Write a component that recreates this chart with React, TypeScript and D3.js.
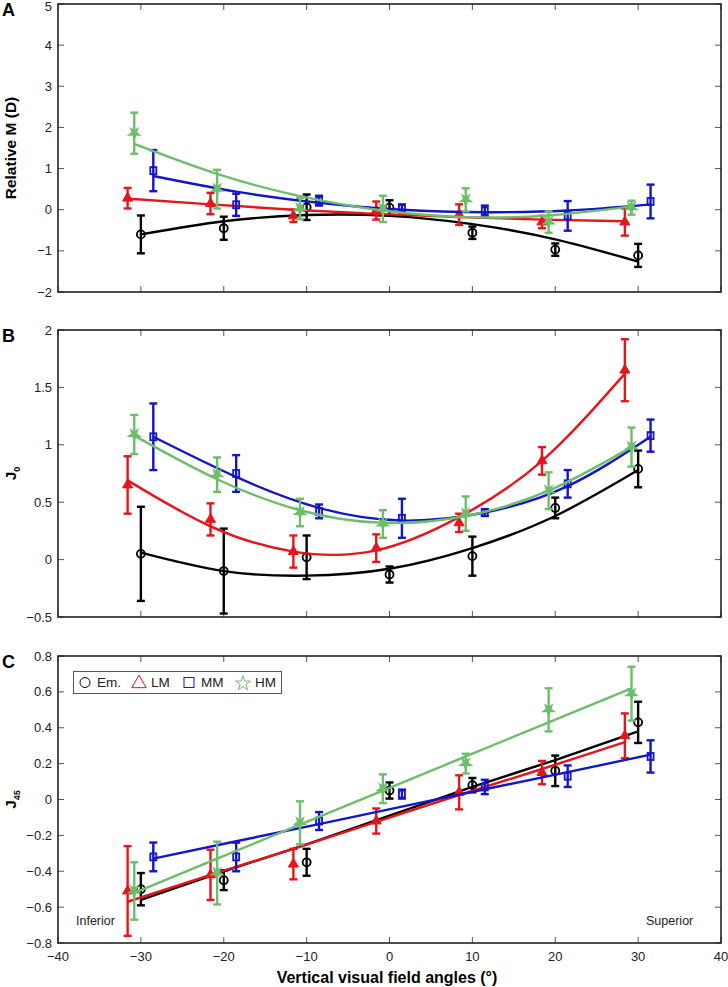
import React from "react";
import * as d3 from "d3";

// ---------- data ----------
const angles = [-30, -20, -10, 0, 10, 20, 30];
const groups = ["Em.", "LM", "MM", "HM"];
const groupOffsets = [0, -1.6, 1.5, -0.8];
const groupColors = ["#000000", "#e8141b", "#1414c8", "#6dbe6c"];

const xTicks = [-40, -30, -20, -10, 0, 10, 20, 30, 40];
const ticksA = [-2, -1, 0, 1, 2, 3, 4, 5];
const ticksB = [-0.5, 0, 0.5, 1, 1.5, 2];
const ticksC = [-0.8, -0.6, -0.4, -0.2, 0, 0.2, 0.4, 0.6, 0.8];

// Panel A: Relative M (D)
const aEmMean = [-0.6, -0.45, 0.06, 0.05, -0.56, -0.97, -1.11];
const aEmErr = [0.46, 0.28, 0.31, 0.18, 0.15, 0.15, 0.28];
const aEmFit = [-0.6, -0.28, -0.13, -0.15, -0.35, -0.72, -1.26];
const aLMMean = [0.28, 0.15, -0.15, -0.02, -0.12, -0.3, -0.3];
const aLMErr = [0.25, 0.26, 0.15, 0.22, 0.25, 0.15, 0.33];
const aLMFit = [0.27, 0.13, 0.0, -0.1, -0.18, -0.24, -0.28];
const aMMMean = [0.95, 0.12, 0.22, 0.03, -0.03, -0.15, 0.2];
const aMMErr = [0.5, 0.27, 0.12, 0.1, 0.13, 0.36, 0.41];
const aMMFit = [0.82, 0.44, 0.17, 0.0, -0.06, -0.02, 0.13];
const aHMMean = [1.86, 0.5, 0.03, 0.02, 0.24, -0.3, 0.05];
const aHMErr = [0.5, 0.47, 0.26, 0.32, 0.28, 0.26, 0.17];
const aHMFit = [1.6, 0.87, 0.33, -0.02, -0.18, -0.14, 0.08];

// Panel B: J0
const bEmMean = [0.05, -0.1, 0.02, -0.13, 0.03, 0.45, 0.79];
const bEmErr = [0.41, 0.37, 0.19, 0.07, 0.17, 0.09, 0.16];
const bEmFit = [0.06, -0.1, -0.14, -0.08, 0.1, 0.38, 0.78];
const bLMMean = [0.65, 0.35, 0.07, 0.1, 0.32, 0.86, 1.65];
const bLMErr = [0.25, 0.14, 0.14, 0.12, 0.08, 0.12, 0.27];
const bLMFit = [0.69, 0.29, 0.07, 0.08, 0.37, 0.86, 1.62];
const bMMMean = [1.07, 0.75, 0.42, 0.36, 0.41, 0.66, 1.08];
const bMMErr = [0.29, 0.16, 0.06, 0.17, 0.03, 0.12, 0.14];
const bMMFit = [1.07, 0.72, 0.45, 0.34, 0.41, 0.64, 1.07];
const bHMMean = [1.09, 0.74, 0.41, 0.31, 0.4, 0.6, 0.98];
const bHMErr = [0.17, 0.15, 0.12, 0.12, 0.15, 0.16, 0.17];
const bHMFit = [1.08, 0.7, 0.43, 0.32, 0.38, 0.6, 0.98];

// Panel C: J45
const cEmMean = [-0.5, -0.45, -0.35, 0.05, 0.08, 0.16, 0.43];
const cEmErr = [0.09, 0.055, 0.075, 0.045, 0.04, 0.085, 0.115];
const cEmFit = [-0.56, -0.4, -0.25, -0.09, 0.07, 0.22, 0.38];
const cLMMean = [-0.51, -0.42, -0.36, -0.12, 0.04, 0.15, 0.355];
const cLMErr = [0.25, 0.14, 0.085, 0.07, 0.095, 0.065, 0.125];
const cLMFit = [-0.57, -0.42, -0.275, -0.125, 0.025, 0.17, 0.32];
const cMMMean = [-0.32, -0.32, -0.12, 0.03, 0.07, 0.13, 0.24];
const cMMErr = [0.08, 0.08, 0.05, 0.025, 0.04, 0.06, 0.09];
const cMMFit = [-0.33, -0.233, -0.137, -0.04, 0.057, 0.153, 0.25];
const cHMMean = [-0.51, -0.41, -0.13, 0.06, 0.2, 0.5, 0.59];
const cHMErr = [0.16, 0.175, 0.12, 0.08, 0.055, 0.12, 0.15];
const cHMFit = [-0.52, -0.33, -0.14, 0.05, 0.24, 0.43, 0.62];

const panels = [
  {
    letter: "A", title: "Relative M (D)", sub: "", top: 4, bottom: 292, domain: [-2, 5], ticks: ticksA, linear: false,
    means: [aEmMean, aLMMean, aMMMean, aHMMean], errs: [aEmErr, aLMErr, aMMErr, aHMErr], fits: [aEmFit, aLMFit, aMMFit, aHMFit],
  },
  {
    letter: "B", title: "J", sub: "0", top: 330, bottom: 617, domain: [-0.5, 2], ticks: ticksB, linear: false,
    means: [bEmMean, bLMMean, bMMMean, bHMMean], errs: [bEmErr, bLMErr, bMMErr, bHMErr], fits: [bEmFit, bLMFit, bMMFit, bHMFit],
  },
  {
    letter: "C", title: "J", sub: "45", top: 656, bottom: 943, domain: [-0.8, 0.8], ticks: ticksC, linear: true,
    means: [cEmMean, cLMMean, cMMMean, cHMMean], errs: [cEmErr, cLMErr, cMMErr, cHMErr], fits: [cEmFit, cLMFit, cMMFit, cHMFit],
  },
];

const W = 728, H = 987;
const LEFT = 58, RIGHT = 721;
const FONT = "'Liberation Sans', Arial, sans-serif";

const fmt = (v: number) => {
  const s = d3.format("~g")(Math.round(v * 100) / 100);
  return s.replace("-", "\u2212");
};

function Marker({ g, x, y, color }: { g: number; x: number; y: number; color: string }) {
  if (g === 0) return <circle cx={x} cy={y} r={4} fill="none" stroke={color} strokeWidth={1.8} />;
  if (g === 1) {
    const p = d3.symbol(d3.symbolTriangle, 44)();
    return <path d={p || ""} transform={`translate(${x},${y})`} fill={color} stroke={color} strokeWidth={1} />;
  }
  if (g === 2) return <rect x={x - 3} y={y - 3.5} width={6} height={7} fill="none" stroke={color} strokeWidth={1.8} />;
  const p = d3.symbol(d3.symbolStar, 38)();
  return <path d={p || ""} transform={`translate(${x},${y}) rotate(180)`} fill={color} stroke={color} strokeWidth={1.4} />;
}

function LegendMarker({ g, x, y, color }: { g: number; x: number; y: number; color: string }) {
  if (g === 0) return <circle cx={x} cy={y} r={5} fill="none" stroke={color} strokeWidth={1} />;
  if (g === 1) {
    const p = d3.symbol(d3.symbolTriangle, 90)();
    return <path d={p || ""} transform={`translate(${x},${y + 1})`} fill="none" stroke={color} strokeWidth={1} />;
  }
  if (g === 2) return <rect x={x - 5} y={y - 5} width={10} height={10} fill="none" stroke={color} strokeWidth={1} />;
  const p = d3.symbol(d3.symbolStar, 70)();
  return <path d={p || ""} transform={`translate(${x},${y + 1})`} fill="none" stroke={color} strokeWidth={1} />;
}

export default function App() {
  const x = d3.scaleLinear().domain([-40, 40]).range([LEFT, RIGHT]);

  return (
    <svg width={W} height={H} style={{ position: "absolute", left: 0, top: 0, background: "#fff" }} fontFamily={FONT}>
      {panels.map((p, pi) => {
        const y = d3.scaleLinear().domain(p.domain).range([p.bottom, p.top]);
        const line = d3
          .line<[number, number]>()
          .x((d) => x(d[0]))
          .y((d) => y(d[1]))
          .curve(p.linear ? d3.curveLinear : d3.curveNatural);
        const midY = (p.top + p.bottom) / 2;
        return (
          <g key={pi}>
            {/* panel letter */}
            <text x={2} y={p.top + 12} fontSize={18} fontWeight="bold">{p.letter}</text>
            {/* y title */}
            <text transform={`translate(16,${midY}) rotate(-90)`} textAnchor="middle" fontSize={15.5} fontWeight="bold">
              {p.title}
              {p.sub && <tspan fontSize={9} dy={4}>{p.sub}</tspan>}
            </text>
            {/* y ticks */}
            {p.ticks.map((t) => (
              <g key={t}>
                <text x={LEFT - 6} y={Math.max(y(t), 6)} dy="0.35em" textAnchor="end" fontSize={13} fill="#222">{fmt(t)}</text>
                <line x1={LEFT} x2={LEFT + 6} y1={y(t)} y2={y(t)} stroke="#555" strokeWidth={1} />
                <line x1={RIGHT - 6} x2={RIGHT} y1={y(t)} y2={y(t)} stroke="#555" strokeWidth={1} />
              </g>
            ))}
            {/* x ticks */}
            {xTicks.map((t) => (
              <g key={t}>
                <line x1={x(t)} x2={x(t)} y1={p.top} y2={p.top + 6} stroke="#555" strokeWidth={1} />
                <line x1={x(t)} x2={x(t)} y1={p.bottom - 6} y2={p.bottom} stroke="#555" strokeWidth={1} />
                {pi === 2 && (
                  <text x={x(t)} y={p.bottom + 13} dy="0.35em" textAnchor="middle" fontSize={13} fill="#222">{fmt(t)}</text>
                )}
              </g>
            ))}
            {/* series */}
            {groups.map((gName, g) => {
              const color = groupColors[g];
              const xs = angles.map((a) => a + groupOffsets[g]);
              const fitPts = xs.map((xx, i) => [xx, p.fits[g][i]] as [number, number]);
              return (
                <g key={gName}>
                  {xs.map((xx, i) => {
                    const m = p.means[g][i];
                    const e = p.errs[g][i];
                    const px = x(xx);
                    return (
                      <g key={i} stroke={color} strokeWidth={2.4}>
                        <line x1={px} x2={px} y1={y(m - e)} y2={y(m + e)} />
                        <line x1={px - 4} x2={px + 4} y1={y(m - e)} y2={y(m - e)} />
                        <line x1={px - 4} x2={px + 4} y1={y(m + e)} y2={y(m + e)} />
                      </g>
                    );
                  })}
                  <path d={line(fitPts) || ""} fill="none" stroke={color} strokeWidth={2.4} />
                  {xs.map((xx, i) => (
                    <Marker key={"m" + i} g={g} x={x(xx)} y={y(p.means[g][i])} color={color} />
                  ))}
                </g>
              );
            })}
            {/* frame */}
            <rect x={LEFT} y={p.top} width={RIGHT - LEFT} height={p.bottom - p.top} fill="none" stroke="#222" strokeWidth={1.6} />
          </g>
        );
      })}

      {/* legend */}
      <g>
        <rect x={73.5} y={671.5} width={208} height={22} fill="#fff" stroke="#555" strokeWidth={1} />
        {groups.map((gName, g) => {
          const lx = [85, 139, 189, 243][g];
          return (
            <g key={gName}>
              <LegendMarker g={g} x={lx} y={682.5} color={groupColors[g]} />
              <text x={lx + 12} y={682.5} dy="0.35em" fontSize={13.5} fill="#222">{gName}</text>
            </g>
          );
        })}
      </g>

      <text x={76} y={921} dy="0.35em" fontSize={12.5} fill="#222">Inferior</text>
      <text x={646} y={921} dy="0.35em" fontSize={12.5} fill="#222">Superior</text>

      <text x={387} y={977} dy="0.35em" textAnchor="middle" fontSize={16} fontWeight="bold">
        Vertical visual field angles (°)
      </text>
    </svg>
  );
}
